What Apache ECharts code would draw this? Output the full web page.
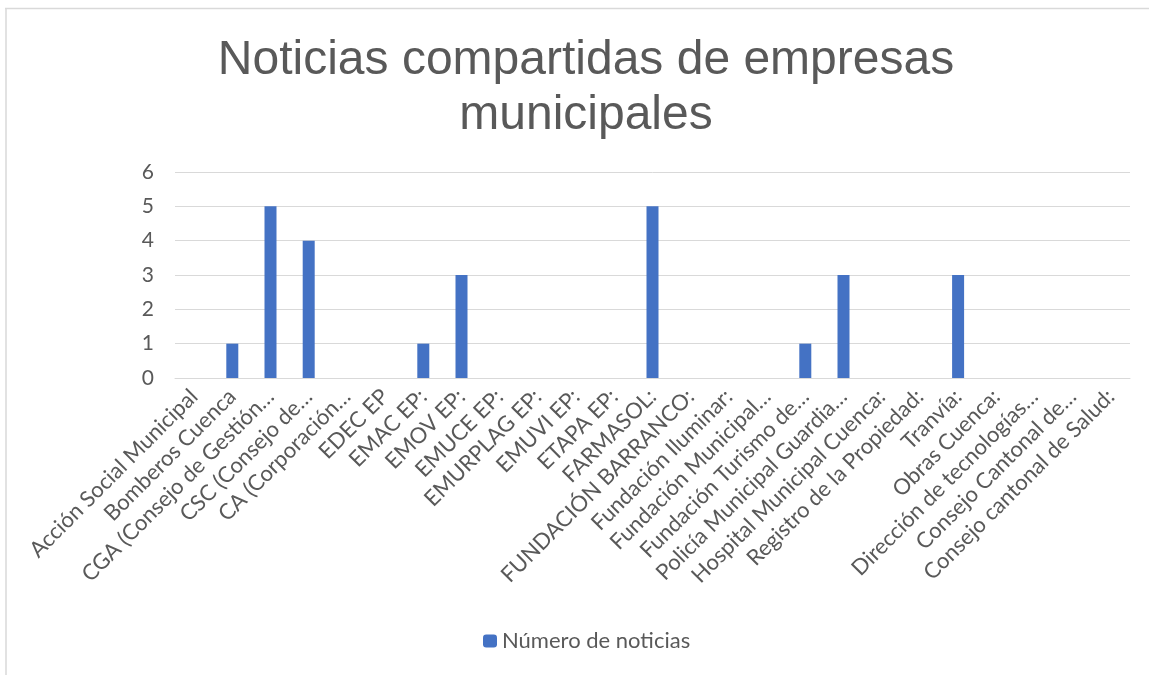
<!DOCTYPE html>
<html>
<head>
<meta charset="utf-8">
<script src="https://cdn.jsdelivr.net/npm/echarts@6/dist/echarts.min.js"></script>
<style>
html,body{margin:0;padding:0;background:#fff;}
#chart{width:1149px;height:675px;}
</style>
</head>
<body>
<div id="chart"></div>
<script>
var titleText = 'Noticias compartidas de empresas\nmunicipales';
var seriesName = 'Número de noticias';
var categories = [
  'Acción Social Municipal',
  'Bomberos Cuenca',
  'CGA (Consejo de Gestión…',
  'CSC (Consejo de…',
  'CA (Corporación…',
  'EDEC EP',
  'EMAC EP:',
  'EMOV EP:',
  'EMUCE EP:',
  'EMURPLAG EP:',
  'EMUVI EP:',
  'ETAPA EP:',
  'FARMASOL:',
  'FUNDACIÓN BARRANCO:',
  'Fundación Iluminar:',
  'Fundación Municipal…',
  'Fundación Turismo de…',
  'Policía Municipal Guardia…',
  'Hospital Municipal Cuenca:',
  'Registro de la Propiedad:',
  'Tranvía:',
  'Obras Cuenca:',
  'Dirección de tecnologías…',
  'Consejo Cantonal de…',
  'Consejo cantonal de Salud:'
];
var values = [0, 1, 5, 4, 0, 0, 1, 3, 0, 0, 0, 0, 5, 0, 0, 0, 1, 3, 0, 0, 3, 0, 0, 0, 0];

var chart = echarts.init(document.getElementById('chart'), null, {renderer: 'canvas'});
chart.setOption({
  animation: false,
  backgroundColor: '#ffffff',
  title: {
    text: titleText,
    left: 581,
    top: 28,
    textAlign: 'center',
    textStyle: {
      fontFamily: 'Liberation Sans, Arial, sans-serif',
      fontSize: 48,
      fontWeight: 'normal',
      color: '#595959',
      lineHeight: 55
    }
  },
  legend: {
    data: [seriesName],
    left: 483,
    top: 630,
    padding: 0,
    itemWidth: 14,
    itemHeight: 13,
    itemGap: 6,
    textStyle: {
      fontFamily: 'Lato, sans-serif',
      fontSize: 22,
      color: '#595959'
    }
  },
  grid: {
    left: 175,
    right: 19,
    top: 172,
    bottom: 297,
    containLabel: false
  },
  xAxis: {
    type: 'category',
    data: categories,
    axisLine: {show: true, lineStyle: {color: '#d9d9d9', width: 1}},
    axisTick: {show: false},
    axisLabel: {
      interval: 0,
      rotate: 45,
      margin: 15,
      fontFamily: 'Lato, sans-serif',
      fontSize: 22,
      color: '#595959'
    }
  },
  yAxis: {
    type: 'value',
    min: 0,
    max: 6,
    interval: 1,
    axisLine: {show: false},
    axisTick: {show: false},
    splitLine: {lineStyle: {color: '#d9d9d9', width: 1}},
    axisLabel: {
      margin: 21,
      fontFamily: 'Lato, sans-serif',
      fontSize: 21,
      color: '#595959'
    }
  },
  series: [{
    name: seriesName,
    type: 'bar',
    data: values,
    barWidth: 12,
    itemStyle: {color: '#4472c4'}
  }],
  graphic: [
    {type: 'line', shape: {x1: 5, y1: 8.5, x2: 1149, y2: 8.5}, style: {stroke: '#d9d9d9', lineWidth: 1.5}, silent: true},
    {type: 'line', shape: {x1: 6, y1: 8, x2: 6, y2: 675}, style: {stroke: '#d9d9d9', lineWidth: 1.5}, silent: true}
  ]
});
</script>
</body>
</html>
